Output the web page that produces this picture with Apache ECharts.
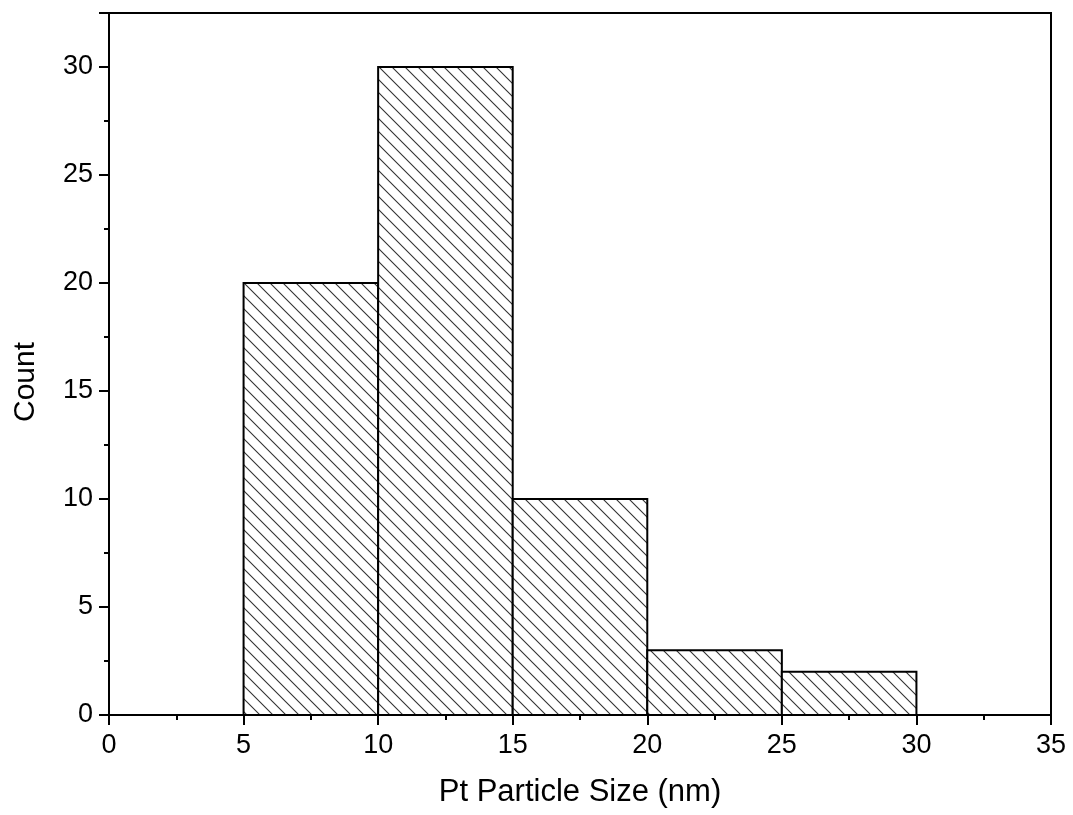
<!DOCTYPE html>
<html>
<head>
<meta charset="utf-8">
<script src="https://cdn.jsdelivr.net/npm/echarts@6/dist/echarts.min.js"></script>
<style>
  html, body { margin: 0; padding: 0; background: #fff; }
  #main { width: 1073px; height: 815px; }
</style>
</head>
<body>
<div id="main"></div>
<script>
// histogram bins (nm) and counts
var binStart = [5, 10, 15, 20, 25];
var binEnd = [10, 15, 20, 25, 30];
var counts = [20, 30, 10, 3, 2];

var font = 'Arial, "Liberation Sans", sans-serif';

// hatch pattern "\\\" like the Origin fill
function makeHatch() {
  var s = 13;
  var c = document.createElement('canvas');
  c.width = s; c.height = s;
  var ctx = c.getContext('2d');
  ctx.fillStyle = '#fff';
  ctx.fillRect(0, 0, s, s);
  ctx.strokeStyle = '#333';
  ctx.lineWidth = 1.1;
  ctx.beginPath();
  ctx.moveTo(-2, -2); ctx.lineTo(s + 2, s + 2);
  ctx.moveTo(-2, s - 2); ctx.lineTo(2, s + 2);
  ctx.moveTo(s - 2, -2); ctx.lineTo(s + 2, 2);
  ctx.stroke();
  return c;
}
var hatch = makeHatch();

var data = [];
for (var i = 0; i < counts.length; i++) {
  data.push([binStart[i], binEnd[i], counts[i]]);
}

var chart = echarts.init(document.getElementById('main'));
var option = {
  animation: false,
  grid: {
    left: 109, right: 22, top: 13, bottom: 100,
    show: true, borderColor: '#000', borderWidth: 2
  },
  xAxis: {
    type: 'value', min: 0, max: 35, interval: 5,
    name: 'Pt Particle Size (nm)', nameLocation: 'middle', nameGap: 62,
    nameTextStyle: { fontSize: 31, color: '#000', fontFamily: font },
    axisLine: { lineStyle: { color: '#000', width: 2 } },
    axisTick: { length: 10, lineStyle: { color: '#000', width: 2 } },
    minorTick: { show: true, splitNumber: 2, length: 5, lineStyle: { color: '#000', width: 2 } },
    axisLabel: { fontSize: 27, color: '#000', fontFamily: font, margin: 17 },
    splitLine: { show: false }
  },
  yAxis: [{
    type: 'value', min: 0, max: 32.5, interval: 5,
    name: 'Count', nameLocation: 'middle', nameGap: 68,
    nameTextStyle: { fontSize: 30, color: '#000', fontFamily: font, padding: [0, 36, 0, 0] },
    axisLine: { lineStyle: { color: '#000', width: 2 } },
    axisTick: { length: 10, lineStyle: { color: '#000', width: 2 } },
    axisLabel: {
      fontSize: 27, color: '#000', fontFamily: font, margin: 16,
      formatter: function (v) { return v % 5 === 0 ? v : ''; }
    },
    splitLine: { show: false }
  }, {
    // minor ticks only
    type: 'value', min: 0, max: 32.5, interval: 2.5, position: 'left',
    axisLine: { show: false },
    axisTick: { length: 5, lineStyle: { color: '#000', width: 2 } },
    axisLabel: { show: false },
    splitLine: { show: false }
  }],
  series: [{
    type: 'custom',
    data: data,
    encode: { x: [0, 1], y: 2 },
    renderItem: function (params, api) {
      var p0 = api.coord([api.value(0), api.value(2)]);
      var p1 = api.coord([api.value(1), 0]);
      return {
        type: 'rect',
        shape: { x: p0[0], y: p0[1], width: p1[0] - p0[0], height: p1[1] - p0[1] },
        style: {
          fill: { image: hatch, repeat: 'repeat' },
          stroke: '#000', lineWidth: 2
        }
      };
    }
  }]
};
chart.setOption(option);
</script>
</body>
</html>
